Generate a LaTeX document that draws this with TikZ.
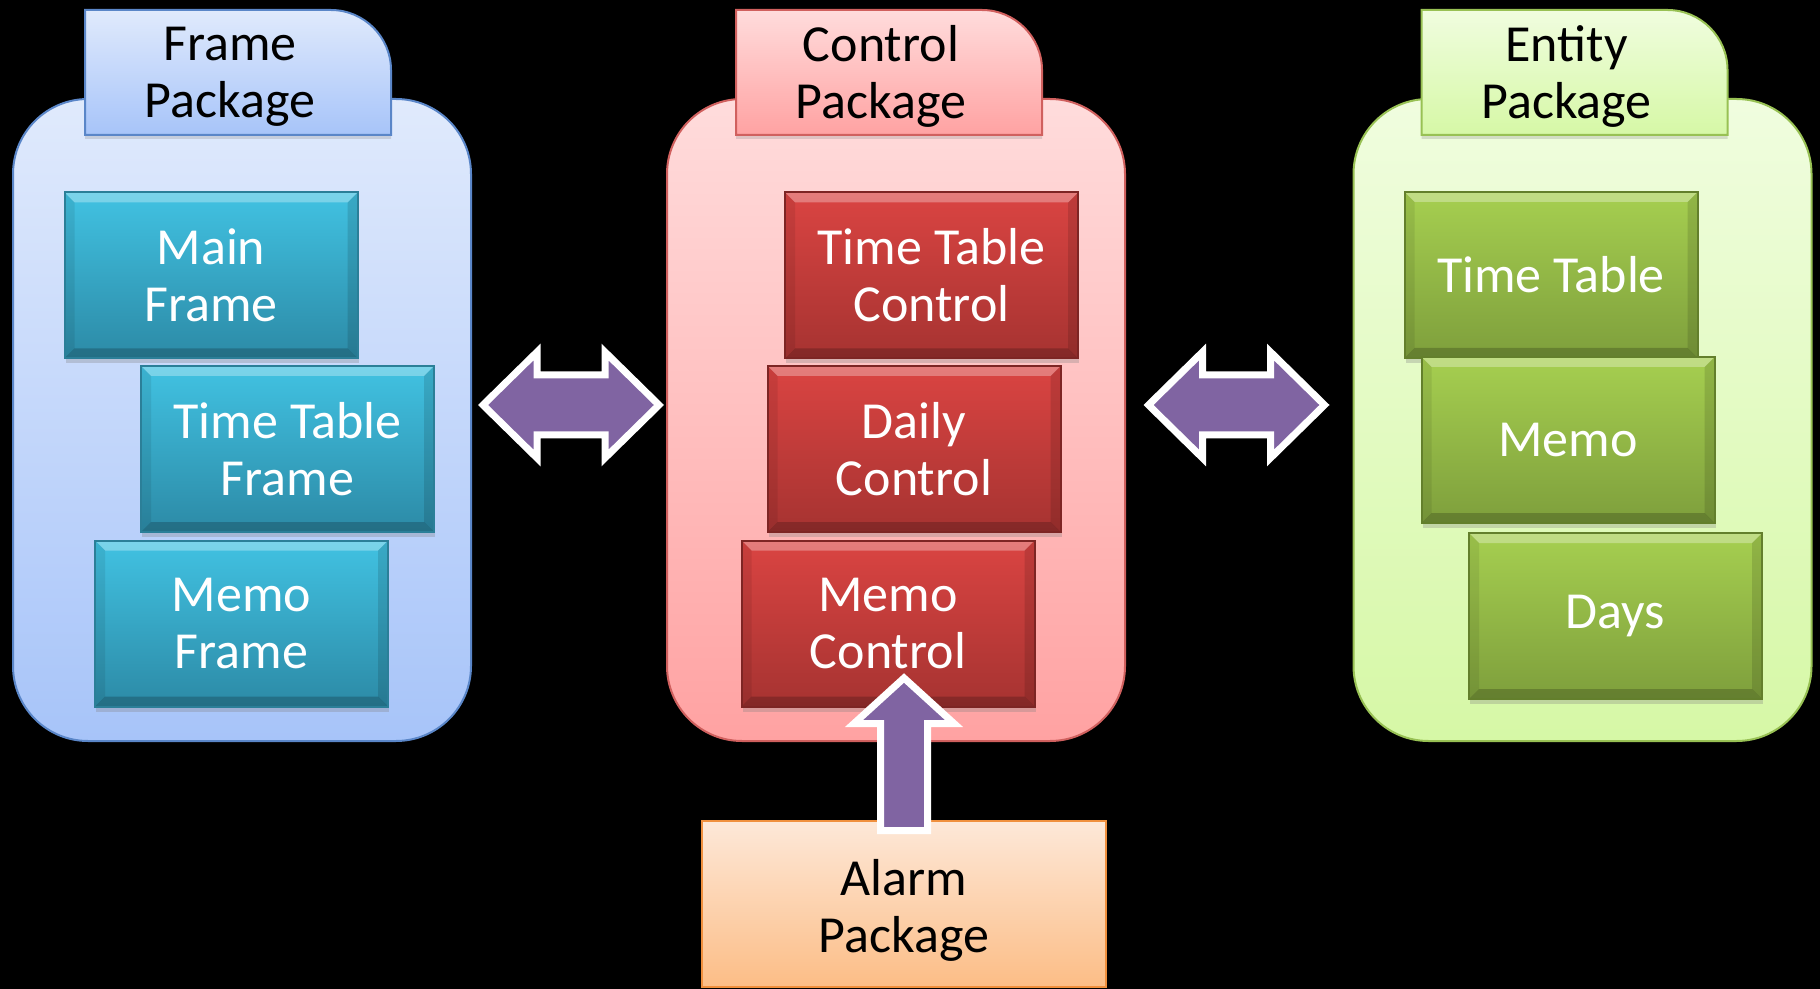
\documentclass[tikz,border=0pt]{standalone}
\usepackage{fontspec}
\setmainfont{Carlito}
\usetikzlibrary{calc}
\usetikzlibrary{shadows}
\pgfdeclarelayer{background}
\pgfsetlayers{background,main}

\definecolor{blueline}{HTML}{5A86C8}
\definecolor{bluetop}{HTML}{E0EAFC}
\definecolor{bluebot}{HTML}{A7C4F9}
\definecolor{tealline}{HTML}{2B7F98}
\definecolor{tealtop}{HTML}{41C2E2}
\definecolor{tealbot}{HTML}{2C8AA6}
\definecolor{redline}{HTML}{D0605E}
\definecolor{pinktop}{HTML}{FFDCDC}
\definecolor{pinkbot}{HTML}{FFA2A2}
\definecolor{darkred}{HTML}{7D2524}
\definecolor{redtop}{HTML}{DA4442}
\definecolor{redbot}{HTML}{A63331}
\definecolor{greenline}{HTML}{98C154}
\definecolor{limetop}{HTML}{F0FDDF}
\definecolor{limebot}{HTML}{D6F8A6}
\definecolor{olive}{HTML}{637F2C}
\definecolor{greentop}{HTML}{A6CF50}
\definecolor{greenbot}{HTML}{7E9F3C}
\definecolor{orangeline}{HTML}{F0903E}
\definecolor{peachtop}{HTML}{FDE8D8}
\definecolor{peachbot}{HTML}{FCBD86}
\definecolor{arrowpurple}{HTML}{8064A2}

\newcommand{\pkgfont}{\fontsize{26}{28.5}\selectfont}
\newcommand{\tabshape}[2]{\path[pkgtab,#2] ($(#1)+(-145,58.5)$) -- ($(#1)+(-145,-66.5)$) -- ($(#1)+(101,-66.5)$) .. controls ($(#1)+(134,-66.5)$) and ($(#1)+(161,-39.5)$) .. ($(#1)+(161,-6.5)$) -- ($(#1)+(161,58.5)$) -- cycle;}
\newcommand{\dblarrow}[1]{\filldraw[blockarrow] ($(#1)+(-88,0)$) -- ($(#1)+(-34,-53)$) -- ($(#1)+(-34,-30)$) -- ($(#1)+(34,-30)$) -- ($(#1)+(34,-53)$) -- ($(#1)+(88,0)$) -- ($(#1)+(34,53)$) -- ($(#1)+(34,30)$) -- ($(#1)+(-34,30)$) -- ($(#1)+(-34,53)$) -- cycle;}

\tikzset{
  container/.style={draw, line width=1pt, rounded corners=37.5pt, minimum width=229pt, minimum height=321pt},
  pkgtab/.style={draw, line width=1pt, drop shadow={shadow xshift=0pt, shadow yshift=-2pt, opacity=0.25}},
  tabtext/.style={text=black, align=center, font=\pkgfont, inner sep=0pt},
  bevel/.style={path picture={
    \fill[white,opacity=0.3] (path picture bounding box.north west) -- (path picture bounding box.north east) -- ([shift={(-5pt,-5pt)}]path picture bounding box.north east) -- ([shift={(5pt,-5pt)}]path picture bounding box.north west) -- cycle;
    \fill[black,opacity=0.2] (path picture bounding box.south west) -- (path picture bounding box.south east) -- ([shift={(-5pt,5pt)}]path picture bounding box.south east) -- ([shift={(5pt,5pt)}]path picture bounding box.south west) -- cycle;
    \fill[black,opacity=0.08] (path picture bounding box.north west) -- ([shift={(5pt,-5pt)}]path picture bounding box.north west) -- ([shift={(5pt,5pt)}]path picture bounding box.south west) -- (path picture bounding box.south west) -- cycle;
    \fill[black,opacity=0.12] (path picture bounding box.north east) -- ([shift={(-5pt,-5pt)}]path picture bounding box.north east) -- ([shift={(-5pt,5pt)}]path picture bounding box.south east) -- (path picture bounding box.south east) -- cycle;}},
  classbox/.style={draw, line width=1pt, minimum width=146.5pt, minimum height=83pt, text=white, align=center, font=\pkgfont, bevel, drop shadow={shadow xshift=0.5pt, shadow yshift=-2.5pt, opacity=0.3}},
  framepart/.style={classbox, draw=tealline, top color=tealtop, bottom color=tealbot},
  controlpart/.style={classbox, draw=darkred, top color=redtop, bottom color=redbot},
  entitypart/.style={classbox, draw=olive, top color=greentop, bottom color=greenbot},
  bluepkg/.style={draw=blueline, top color=bluetop, bottom color=bluebot},
  pinkpkg/.style={draw=redline, top color=pinktop, bottom color=pinkbot},
  limepkg/.style={draw=greenline, top color=limetop, bottom color=limebot},
  blockarrow/.style={fill=arrowpurple, draw=white, line width=3.5pt}
}

\begin{document}
\begin{tikzpicture}[x=0.5pt,y=-0.5pt]
    \useasboundingbox (0,0) rectangle (1820,989);

    % package titles
    \node[tabtext] (framepkg) at (230,76.5) {Frame\\Package};
    \node[tabtext] (controlpkg) at (881,76.5) {Control\\Package};
    \node[tabtext] (entitypkg) at (1566.5,76.5) {Entity\\Package};

    \begin{pgfonlayer}{background}
    \fill[black] (0,0) rectangle (1820,989);
    \node[container, bluepkg] (framebox) at (242,420) {};
    \node[container, pinkpkg] (controlbox) at (896,420) {};
    \node[container, limepkg] (entitybox) at (1582.5,420) {};
    \tabshape{framepkg}{bluepkg}
    \tabshape{controlpkg}{pinkpkg}
    \tabshape{entitypkg}{limepkg}
    \end{pgfonlayer}

    % frame package
    \node[framepart] (mainframe) at (211,275.5) {Main\\Frame};
    \node[framepart] (ttframe) at (287.5,449) {Time Table\\Frame};
    \node[framepart] (memoframe) at (241.5,623.5) {Memo\\Frame};

    % control package
    \node[controlpart] (ttcontrol) at (931.5,275.5) {Time Table\\Control};
    \node[controlpart] (dailycontrol) at (914,449) {Daily\\Control};
    \node[controlpart] (memocontrol) at (888,623.5) {Memo\\Control};

    % entity package
    \node[entitypart] (ttentity) at (1551,275) {Time Table};
    \node[entitypart] (memoentity) at (1568,440) {Memo};
    \node[entitypart] (days) at (1615.5,616) {Days};

    % alarm package
    \node[draw=orangeline, line width=1pt, top color=peachtop, bottom color=peachbot, minimum width=202pt, minimum height=83pt,
          label={[font=\pkgfont, align=center, yshift=-3pt]center:Alarm\\Package}] (alarmpkg) at (904,904) {};

    % links
    \coordinate (leftlink) at (571,405);
    \coordinate (rightlink) at (1236.5,405);
    \coordinate (alarmtip) at (904,678);
    \dblarrow{leftlink}
    \dblarrow{rightlink}
    \filldraw[blockarrow] (alarmtip) -- ++(50,45.5) -- ++(-26.5,0) -- ++(0,107) -- ++(-47,0) -- ++(0,-107) -- ++(-26.5,0) -- cycle;

\end{tikzpicture}
\end{document}
